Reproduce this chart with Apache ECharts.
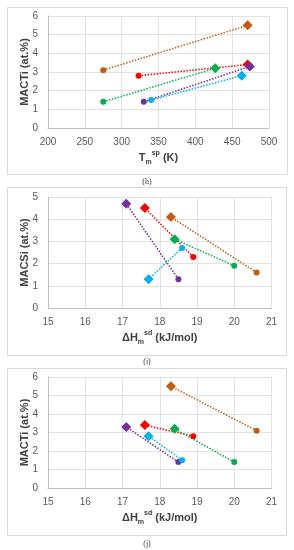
<!DOCTYPE html>
<html><head><meta charset="utf-8">
<script src="https://cdn.jsdelivr.net/npm/echarts@6/dist/echarts.min.js"></script>
<style>html,body{margin:0;padding:0;background:#fff}#c{width:294px;height:550px}</style>
</head><body><div id="c"></div>
<script>
const colors = ['#C55A11', '#FF0000', '#00B050', '#7030A0', '#00B0F0'];
// Panel (h): MACTi vs Tm^sp
const hCircleX = [275, 323, 275, 330, 340];
const hCircleY = [3.1, 2.8, 1.4, 1.4, 1.5];
const hDiamondX = [471, 471, 427, 474, 463];
const hDiamondY = [5.5, 3.4, 3.2, 3.3, 2.8];
// Panel (i): MACSi vs dHm^sd
const iCircleX = [20.6, 18.9, 20.0, 18.5, 18.6];
const iCircleY = [1.6, 2.3, 1.9, 1.3, 2.7];
const iDiamondX = [18.3, 17.6, 18.4, 17.1, 17.7];
const iDiamondY = [4.1, 4.5, 3.1, 4.7, 1.3];
// Panel (j): MACTi vs dHm^sd
const jCircleX = [20.6, 18.9, 20.0, 18.5, 18.6];
const jCircleY = [3.1, 2.8, 1.4, 1.4, 1.5];
const jDiamondX = [18.3, 17.6, 18.4, 17.1, 17.7];
const jDiamondY = [5.5, 3.4, 3.2, 3.3, 2.8];
// Axis ticks
const hXTicks = [200, 500, 50];
const hYTicks = [0, 6, 1];
const iXTicks = [15, 21, 1];
const iYTicks = [0, 5, 1];
const jXTicks = [15, 21, 1];
const jYTicks = [0, 6, 1];

const FONT = 'Liberation Sans';
const grids = [
  {left: 48, top: 16, width: 221, height: 112},
  {left: 48, top: 197, width: 223.5, height: 111},
  {left: 48, top: 377, width: 223.5, height: 111}
];
const rich = {
  b: {fontFamily: FONT, fontWeight: 'bold', fontSize: 11, color: '#404040', lineHeight: 16, verticalAlign: 'middle'},
  sub: {fontFamily: FONT, fontWeight: 'bold', fontSize: 7, color: '#404040', lineHeight: 16, verticalAlign: 'bottom', padding: [5, 0, 0, 0]},
  sup: {fontFamily: FONT, fontWeight: 'bold', fontSize: 7, color: '#404040', lineHeight: 16, verticalAlign: 'top', padding: [0, 0, 4, 0]}
};
function xAxis(idx, t, name) {
  return {gridIndex: idx, type: 'value', min: t[0], max: t[1], interval: t[2],
    name: name, nameLocation: 'middle', nameGap: 22, nameMoveOverlap: false,
    nameTextStyle: {rich: rich},
    axisLine: {show: true, lineStyle: {color: '#bfbfbf'}}, axisTick: {show: false},
    axisLabel: {fontFamily: FONT, fontSize: 10, color: '#595959', margin: 9},
    splitLine: {show: true, lineStyle: {color: '#e2e2e2'}}};
}
function yAxis(idx, t, name) {
  return {gridIndex: idx, type: 'value', min: t[0], max: t[1], interval: t[2],
    name: name, nameLocation: 'middle', nameGap: 18, nameRotate: 90, nameMoveOverlap: false,
    nameTextStyle: {fontFamily: FONT, fontWeight: 'bold', fontSize: 11, color: '#404040'},
    axisLine: {show: true, lineStyle: {color: '#bfbfbf'}}, axisTick: {show: false},
    axisLabel: {fontFamily: FONT, fontSize: 10, color: '#595959', margin: 10},
    splitLine: {show: true, lineStyle: {color: '#e2e2e2'}}};
}
function panelSeries(idx, cx, cy, dx, dy) {
  return colors.map((c, k) => ({
    type: 'line', xAxisIndex: idx, yAxisIndex: idx, animation: false,
    lineStyle: {color: c, type: 'dotted', width: 1.5},
    itemStyle: {color: c},
    data: [
      {value: [cx[k], cy[k]], symbol: 'circle', symbolSize: 6},
      {value: [dx[k], dy[k]], symbol: 'diamond', symbolSize: 10}
    ]
  }));
}
const chart = echarts.init(document.getElementById('c'), null, {renderer: 'canvas'});
const frames = [[7, 7, 280, 167], [7, 187, 279, 168], [7, 368, 279, 167]];
const labels = [['(h)', 182], ['(i)', 362], ['(j)', 544]];
chart.setOption({
  animation: false,
  grid: grids,
  xAxis: [
    xAxis(0, hXTicks, '{b|T}{sub|m}{sup|sp}{b| (K)}'),
    xAxis(1, iXTicks, '{b|ΔH}{sub|m}{sup|sd}{b| (kJ/mol)}'),
    xAxis(2, jXTicks, '{b|ΔH}{sub|m}{sup|sd}{b| (kJ/mol)}')
  ],
  yAxis: [
    yAxis(0, hYTicks, 'MACTi (at.%)'),
    yAxis(1, iYTicks, 'MACSi (at.%)'),
    yAxis(2, jYTicks, 'MACTi (at.%)')
  ],
  series: [].concat(
    panelSeries(0, hCircleX, hCircleY, hDiamondX, hDiamondY),
    panelSeries(1, iCircleX, iCircleY, iDiamondX, iDiamondY),
    panelSeries(2, jCircleX, jCircleY, jDiamondX, jDiamondY)
  ),
  graphic: frames.map(f => ({type: 'rect', z: -10, shape: {x: f[0] + 0.5, y: f[1] + 0.5, width: f[2], height: f[3]},
      style: {fill: 'none', stroke: '#d9d9d9', lineWidth: 1}}))
    .concat(labels.map(l => ({type: 'text', x: 147, y: l[1], style: {text: l[0], fontFamily: 'Liberation Serif', fontSize: 8, fill: '#333', align: 'center', verticalAlign: 'middle'}})))
});
</script></body></html>
